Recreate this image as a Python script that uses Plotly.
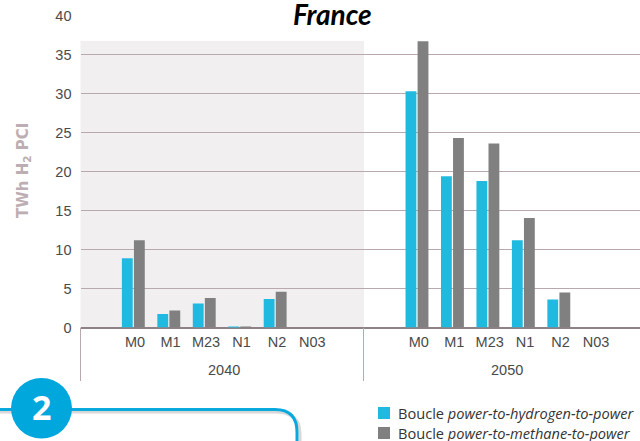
import plotly.graph_objects as go

scenarios = ["M0", "M1", "M23", "N1", "N2", "N03"]
years = ["2040", "2050"]
hydrogen = [8.9, 1.74, 3.1, 0.15, 3.67, 0, 30.3, 19.4, 18.8, 11.2, 3.6, 0]
methane = [11.2, 2.2, 3.8, 0.15, 4.6, 0, 36.7, 24.3, 23.6, 14.05, 4.5, 0]
y_ticks = [0, 5, 10, 15, 20, 25, 30, 35, 40]
series_names = ["Boucle <i>power-to-hydrogen-to-power</i>", "Boucle <i>power-to-methane-to-power</i>"]
series_colors = ["#20bae0", "#808080"]
GROUP_STEP = 8
positions = [g * GROUP_STEP + i for g in range(len(years)) for i in range(len(scenarios))]
tick_labels = scenarios * len(years)

W, H = 640, 441
L, R, T, B = 80.5, 640, 15.5, 327.6
LABEL_OFFSET = 0.05  # category labels sit slightly right of their bar pairs in the reference
px = lambda x: x / W
py = lambda y: 1 - y / H

fig = go.Figure()
fig.add_bar(x=positions, y=hydrogen, name=series_names[0], marker_color=series_colors[0], marker_line_width=0)
fig.add_bar(x=positions, y=methane, name=series_names[1], marker_color=series_colors[1], marker_line_width=0)

shapes = [
    dict(type="rect", layer="below", xref="paper", yref="paper", x0=px(80.5), x1=px(364), y0=py(327.6), y1=py(41), fillcolor="#f1eff0", line_width=0),
    dict(type="rect", layer="above", xref="paper", yref="paper", x0=px(75), x1=px(593), y0=py(41), y1=py(10), fillcolor="white", line_width=0),
]
for xp in (80.5, 363.5):
    shapes.append(dict(type="line", xref="paper", yref="paper", x0=px(xp), x1=px(xp), y0=py(327.6), y1=py(381), line=dict(color="#b9a9ae", width=1)))

# decorative numbered box
box = f"M {px(0)} {py(409.5)} L {px(275)} {py(409.5)} Q {px(297)} {py(409.5)} {px(297)} {py(432)} L {px(297)} {py(441)}"
shadow = f"M {px(0)} {py(412)} L {px(275)} {py(412)} Q {px(300)} {py(412)} {px(300)} {py(434)} L {px(300)} {py(441)}"
shapes += [
    dict(type="path", xref="paper", yref="paper", path=shadow, line=dict(color="#d8d8d8", width=3)),
    dict(type="path", xref="paper", yref="paper", path=box, line=dict(color="#0aa9dd", width=3)),
    dict(type="circle", xref="paper", yref="paper", x0=px(11), x1=px(72), y0=py(378), y1=py(438.5), fillcolor="#00a7dc", line_width=0),
]
# legend keys
for i, color in enumerate(series_colors):
    top = 407 + 20 * i
    shapes.append(dict(type="rect", xref="paper", yref="paper", x0=px(378), x1=px(390), y0=py(top), y1=py(top + 12), fillcolor=color, line_width=0))


def note(text, x, y, font, **kw):
    return dict(text=text, xref=kw.pop("xref", "paper"), yref="paper", x=x, y=y, showarrow=False,
                xanchor=kw.pop("xanchor", "center"), yanchor="middle", font=font, **kw)


annotations = [
    note("<b><i>France</i></b>", px(332), py(14), dict(family="Lato", size=28, color="#000000")),
    note("<b>TWh H<sub>2</sub> PCI</b>", px(23), py(171), dict(family="DejaVu Sans", size=15, color="#bcaeb2"), textangle=-90),
    note("<b>2</b>", px(41.5), py(407), dict(family="Open Sans", size=34, color="white")),
]
for g, year in enumerate(years):
    annotations.append(note(year, g * GROUP_STEP + (len(scenarios) - 1) / 2 + LABEL_OFFSET, py(370), dict(family="Liberation Sans", size=14.5, color="#4a4a4a"), xref="x"))
for i, name in enumerate(series_names):
    annotations.append(note(name, px(396), py(413 + 20 * i), dict(family="Open Sans", size=14.6, color="#333333"), xanchor="left"))

fig.update_layout(
    width=W, height=H, autosize=False, showlegend=False,
    margin=dict(l=0, r=0, t=0, b=0),
    paper_bgcolor="white", plot_bgcolor="rgba(0,0,0,0)",
    barmode="group", bargap=0.32, bargroupgap=0.1,
    xaxis=dict(domain=[px(L), px(R)], range=[-1.49, 14.29], tickmode="array",
               tickvals=[p + LABEL_OFFSET for p in positions], ticktext=tick_labels,
               showgrid=False, zeroline=False, ticks="", ticklabelstandoff=4, automargin=False,
               tickfont=dict(family="Liberation Sans", size=14.5, color="#4a4a4a")),
    yaxis=dict(domain=[py(B), py(T)], range=[0, 40], tickmode="array", tickvals=y_ticks, showgrid=True, gridcolor="#b9a9ae", gridwidth=1,
               zeroline=True, zerolinecolor="#8f8286", zerolinewidth=1.5, ticks="", ticklabelstandoff=8, automargin=False,
               tickfont=dict(family="Liberation Sans", size=14.5, color="#4a4a4a")),
    shapes=shapes, annotations=annotations,
)
fig.write_html("out.html", config={"displayModeBar": False}, post_script="document.body.style.margin='0';")
